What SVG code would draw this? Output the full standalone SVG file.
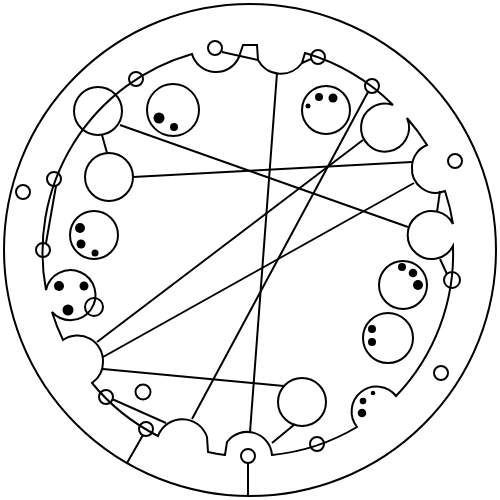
<svg xmlns="http://www.w3.org/2000/svg" width="500" height="500" viewBox="0 0 500 500">
<style>
.s{fill:none;stroke:#000;stroke-width:2}
.d{fill:#000;stroke:none}
</style>
<rect width="500" height="500" fill="#fff"/>
<g id="outer"><circle class="s" cx="250" cy="250" r="246"/></g>
<g id="word">
<path class="s" d="M305,53 A206,206 0 0 1 393,105 A24,24 0 1 0 407,118 A206,206 0 0 1 427,145 A24,24 0 0 0 412,167 A24,24 0 0 0 445,191 A206,206 0 0 1 453,224 A24,24 0 1 0 453,246 A206,206 0 0 1 396,396 A25,25 0 0 0 361,392 A25,25 0 0 0 357,427 A206,206 0 0 1 272,455 A25,25 0 0 0 227,442 L225,455 A206,206 0 0 1 208,452 L207,437 A26,26 0 0 0 158,436 A206,206 0 0 1 92,383 A25.5,25.5 0 0 0 103,362 A25.5,25.5 0 0 0 63,340 A206,206 0 0 1 52,312 A25,25 0 1 0 46,290 A206,206 0 0 1 192,54 A25,25 0 0 0 239,57 L243,45 A206,206 0 0 1 257,45 L258,60 A26,26 0 0 0 302,63 Z"/>
</g>
<g id="letters">
<g id="L1"><circle class="s" cx="98" cy="111" r="24"/></g>
<g id="L2"><circle class="s" cx="109" cy="177" r="24"/></g>
<g id="L3"><circle class="s" cx="173" cy="110" r="26"/><circle class="d" cx="159" cy="118" r="5.5"/><circle class="d" cx="174" cy="127" r="4"/></g>
<g id="L4"><circle class="s" cx="94" cy="235" r="24"/><circle class="d" cx="80" cy="228" r="5"/><circle class="d" cx="81" cy="244" r="4.5"/><circle class="d" cx="95" cy="253" r="3.5"/></g>
<g id="L5"><circle class="d" cx="59" cy="286" r="5"/><circle class="d" cx="84" cy="286" r="4.5"/><circle class="d" cx="68" cy="310" r="5.5"/></g>
<g id="L6"><circle class="s" cx="326" cy="110" r="24"/><circle class="d" cx="319" cy="97" r="4"/><circle class="d" cx="333" cy="98" r="4.5"/><circle class="d" cx="308" cy="106" r="2.5"/></g>
<g id="L7"><circle class="s" cx="403" cy="285" r="24"/><circle class="d" cx="402" cy="267" r="4"/><circle class="d" cx="413" cy="273" r="4.3"/><circle class="d" cx="418" cy="285" r="5"/></g>
<g id="L8"><circle class="s" cx="388" cy="338" r="25"/><circle class="d" cx="372" cy="329" r="4"/><circle class="d" cx="372" cy="342" r="4"/></g>
<g id="L9"><circle class="s" cx="302" cy="402" r="24"/></g>
<g id="E"><circle class="d" cx="373" cy="393" r="2.3"/><circle class="d" cx="363" cy="401" r="3.3"/><circle class="d" cx="362" cy="413" r="4.3"/></g>
</g>
<g id="vowels">
<circle class="s" cx="215" cy="48" r="7"/>
<circle class="s" cx="318" cy="57" r="7"/>
<circle class="s" cx="136" cy="79" r="7"/>
<circle class="s" cx="372" cy="86" r="7"/>
<circle class="s" cx="54" cy="179" r="7"/>
<circle class="s" cx="23" cy="192" r="7"/>
<circle class="s" cx="43" cy="250" r="7"/>
<circle class="s" cx="94" cy="307" r="9"/>
<circle class="s" cx="455" cy="161" r="7"/>
<circle class="s" cx="452" cy="280" r="8"/>
<circle class="s" cx="441" cy="373" r="7"/>
<circle class="s" cx="317" cy="444" r="7"/>
<circle class="s" cx="248" cy="456" r="7"/>
<circle class="s" cx="146" cy="429" r="7"/>
<circle class="s" cx="106" cy="397" r="7"/>
<circle class="s" cx="143" cy="392" r="7.5"/>
</g>
<g id="connectors" class="s">
<line x1="120" y1="125" x2="408" y2="227"/>
<line x1="133" y1="177" x2="412" y2="162"/>
<line x1="368" y1="92" x2="192" y2="419"/>
<line x1="97" y1="342" x2="363" y2="140"/>
<line x1="103" y1="357" x2="414" y2="183"/>
<line x1="103" y1="369" x2="284" y2="386"/>
<line x1="277" y1="73" x2="250" y2="432"/>
<line x1="127" y1="463" x2="143" y2="435"/>
<line x1="248" y1="463" x2="248" y2="496"/>
<line x1="112" y1="399" x2="166" y2="423"/>
<line x1="295" y1="424" x2="272" y2="443"/>
<line x1="222" y1="52" x2="258" y2="60"/>
<line x1="302" y1="63" x2="311" y2="59"/>
<line x1="440" y1="191" x2="437" y2="212"/>
<line x1="440" y1="259" x2="447" y2="274"/>
<line x1="102" y1="135" x2="107" y2="153"/>
<line x1="56" y1="186" x2="46" y2="243"/>
</g>
</svg>
